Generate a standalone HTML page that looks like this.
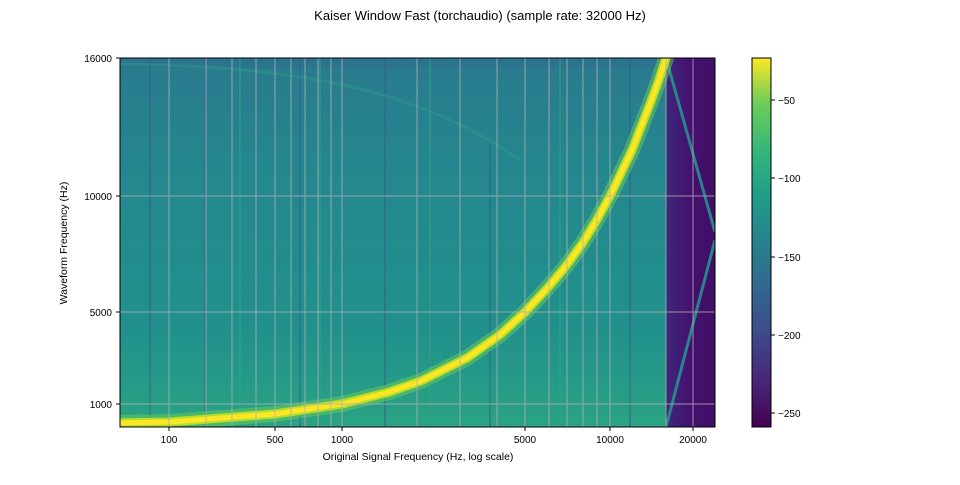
<!DOCTYPE html>
<html><head><meta charset="utf-8"><style>
body{margin:0;background:#fff;}
svg text{font-family:"Liberation Sans","DejaVu Sans",sans-serif;}
</style></head><body>
<svg width="960" height="480" viewBox="0 0 960 480" xmlns="http://www.w3.org/2000/svg">
<defs>
<linearGradient id="vir" x1="0" y1="1" x2="0" y2="0">
<stop offset="0" stop-color="#440154"/><stop offset="0.13" stop-color="#482878"/>
<stop offset="0.25" stop-color="#3e4989"/><stop offset="0.38" stop-color="#31688e"/>
<stop offset="0.5" stop-color="#26828e"/><stop offset="0.63" stop-color="#1f9e89"/>
<stop offset="0.75" stop-color="#35b779"/><stop offset="0.88" stop-color="#6ece58"/>
<stop offset="1" stop-color="#fde725"/></linearGradient>
<linearGradient id="bg" x1="0" y1="0" x2="0" y2="1">
<stop offset="0" stop-color="#2a7a8e"/><stop offset="0.3" stop-color="#24878e"/>
<stop offset="0.75" stop-color="#21918c"/><stop offset="1" stop-color="#2aa383"/></linearGradient>
<linearGradient id="dk" x1="0" y1="0" x2="1" y2="0">
<stop offset="0" stop-color="#3b2a7a"/><stop offset="0.5" stop-color="#45106f"/><stop offset="1" stop-color="#3f0f66"/></linearGradient>
<clipPath id="c"><rect x="120" y="58" width="595" height="369"/></clipPath>
</defs>
<text x="480" y="20" font-size="13" text-anchor="middle">Kaiser Window Fast (torchaudio) (sample rate: 32000 Hz)</text>
<g clip-path="url(#c)">
<rect x="120" y="58" width="595" height="369" fill="url(#bg)"/>
<rect x="120" y="58" width="546" height="10" fill="#2e6e8e" opacity="0.5"/>
<g stroke-width="2" opacity="0.45">
<line x1="150" y1="58" x2="150" y2="427" stroke="#3a5a8c"/>
<line x1="205" y1="58" x2="205" y2="427" stroke="#3a5a8c"/>
<line x1="240" y1="58" x2="240" y2="427" stroke="#2fa884"/>
<line x1="300" y1="58" x2="300" y2="427" stroke="#3a5a8c"/>
<line x1="320" y1="58" x2="320" y2="427" stroke="#2fa884"/>
<line x1="385" y1="58" x2="385" y2="427" stroke="#3a5a8c"/>
<line x1="430" y1="58" x2="430" y2="427" stroke="#2fa884"/>
<line x1="490" y1="140" x2="490" y2="427" stroke="#3a5a8c"/>
<line x1="560" y1="58" x2="560" y2="427" stroke="#2fa884"/>
<line x1="630" y1="58" x2="630" y2="427" stroke="#3a5a8c"/>
</g>
<path d="M120,64 C300,66 420,90 520,160" stroke="#2a9a8a" stroke-width="3" fill="none" opacity="0.5"/>
<rect x="666" y="58" width="49" height="369" fill="url(#dk)"/>
<g stroke="#2a8f8e" stroke-width="3" fill="none" opacity="0.9">
<line x1="666" y1="58" x2="715" y2="232"/><line x1="666" y1="427" x2="715" y2="240"/>
</g>
<g fill="none" stroke-linejoin="round" stroke-linecap="round">
<polyline stroke="#6ccd5a" stroke-width="16" opacity="0.5"
points="110,423 169,422 275,414 342,404 388,392.4 421,381 467,358 500,334.8 525,312 547,288.6 566,266 583,242.5 597,219.5 610,196 632,150.3 641,127 650,104 658.5,81 666,58"/>
<polyline stroke="#b5de2b" stroke-width="9"
points="110,423 169,422 275,414 342,404 388,392.4 421,381 467,358 500,334.8 525,312 547,288.6 566,266 583,242.5 597,219.5 610,196 632,150.3 641,127 650,104 658.5,81 666,58"/>
<polyline stroke="#fde725" stroke-width="5"
points="110,423 169,422 275,414 342,404 388,392.4 421,381 467,358 500,334.8 525,312 547,288.6 566,266 583,242.5 597,219.5 610,196 632,150.3 641,127 650,104 658.5,81 666,58"/>
</g>
<g stroke="#b0b0b0" stroke-width="1" opacity="0.8">
<line x1="169" y1="58" x2="169" y2="427"/><line x1="275" y1="58" x2="275" y2="427"/>
<line x1="342" y1="58" x2="342" y2="427"/><line x1="525" y1="58" x2="525" y2="427"/>
<line x1="610" y1="58" x2="610" y2="427"/><line x1="693" y1="58" x2="693" y2="427"/>
<line x1="206" y1="58" x2="206" y2="427"/><line x1="232" y1="58" x2="232" y2="427"/>
<line x1="256" y1="58" x2="256" y2="427"/><line x1="291" y1="58" x2="291" y2="427"/>
<line x1="305" y1="58" x2="305" y2="427"/><line x1="318" y1="58" x2="318" y2="427"/>
<line x1="331" y1="58" x2="331" y2="427"/><line x1="417" y1="58" x2="417" y2="427"/>
<line x1="460" y1="58" x2="460" y2="427"/><line x1="497" y1="58" x2="497" y2="427"/>
<line x1="549" y1="58" x2="549" y2="427"/><line x1="567" y1="58" x2="567" y2="427"/>
<line x1="583" y1="58" x2="583" y2="427"/><line x1="597" y1="58" x2="597" y2="427"/>
<line x1="666" y1="58" x2="666" y2="427"/>
<line x1="120" y1="404" x2="715" y2="404"/><line x1="120" y1="312" x2="715" y2="312"/>
<line x1="120" y1="196" x2="715" y2="196"/>
</g>
</g>
<rect x="120" y="58" width="595" height="369" fill="none" stroke="#000" stroke-width="1"/>
<g stroke="#000" stroke-width="1">
<line x1="169" y1="427" x2="169" y2="431"/><line x1="275" y1="427" x2="275" y2="431"/>
<line x1="342" y1="427" x2="342" y2="431"/><line x1="525" y1="427" x2="525" y2="431"/>
<line x1="610" y1="427" x2="610" y2="431"/><line x1="693" y1="427" x2="693" y2="431"/>
<line x1="116" y1="58" x2="120" y2="58"/><line x1="116" y1="196" x2="120" y2="196"/>
<line x1="116" y1="312" x2="120" y2="312"/><line x1="116" y1="404" x2="120" y2="404"/>
</g>
<g font-size="10" text-anchor="middle">
<text x="169" y="443">100</text><text x="275" y="443">500</text><text x="342" y="443">1000</text>
<text x="525" y="443">5000</text><text x="610" y="443">10000</text><text x="693" y="443">20000</text>
<text x="418" y="460" font-size="10.5">Original Signal Frequency (Hz, log scale)</text>
</g>
<g font-size="10" text-anchor="end">
<text x="112" y="62">16000</text><text x="112" y="200">10000</text>
<text x="112" y="316">5000</text><text x="112" y="408">1000</text>
</g>
<text transform="translate(67,243) rotate(-90)" font-size="10.5" text-anchor="middle">Waveform Frequency (Hz)</text>
<rect x="752" y="58" width="19" height="369" fill="url(#vir)" stroke="#000" stroke-width="1"/>
<g stroke="#000"><line x1="771" y1="100" x2="775" y2="100"/><line x1="771" y1="178" x2="775" y2="178"/>
<line x1="771" y1="257" x2="775" y2="257"/><line x1="771" y1="335" x2="775" y2="335"/><line x1="771" y1="413" x2="775" y2="413"/></g>
<g font-size="10"><text x="778" y="104">−50</text><text x="778" y="182">−100</text>
<text x="778" y="261">−150</text><text x="778" y="339">−200</text><text x="778" y="417">−250</text></g>
</svg>
</body></html>
